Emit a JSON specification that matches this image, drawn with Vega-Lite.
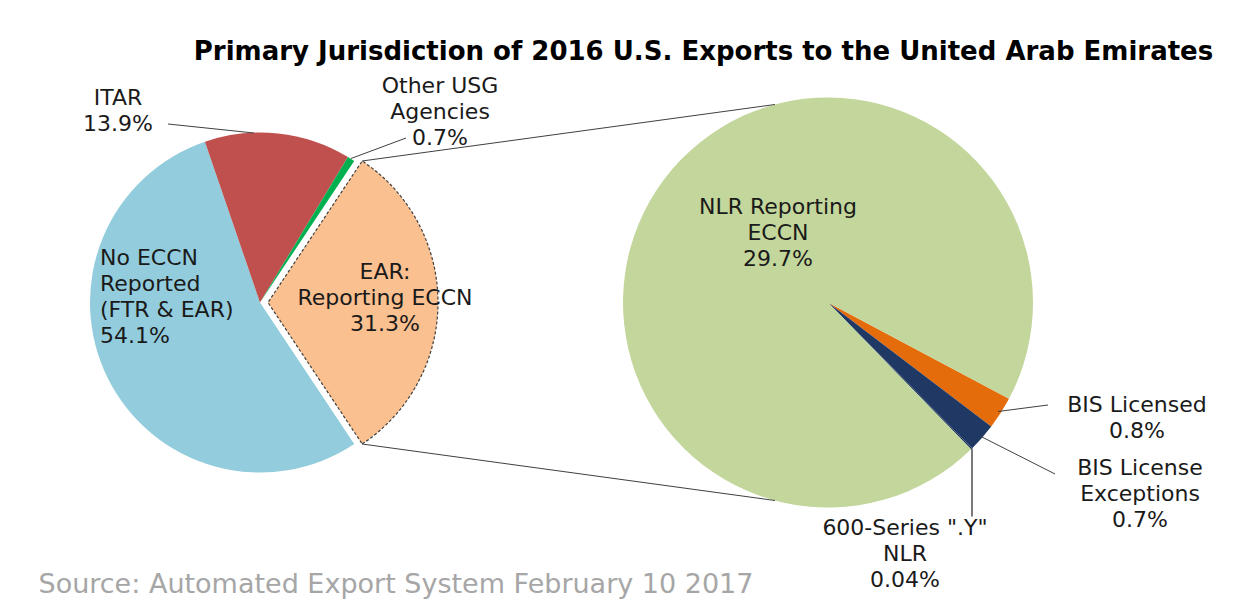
{
  "$schema": "https://vega.github.io/schema/vega-lite/v6.json",
  "width": 1257,
  "height": 605,
  "autosize": "none",
  "padding": 0,
  "background": "white",
  "config": {"view": {"stroke": null}},
  "title": {
    "text": "Primary Jurisdiction of 2016 U.S. Exports to the United Arab Emirates",
    "font": "DejaVu Sans",
    "fontSize": 26,
    "fontWeight": "bold",
    "color": "#000000",
    "anchor": "middle",
    "frame": "group",
    "dx": 75,
    "offset": -86,
    "baseline": "alphabetic"
  },
  "data": {
    "values": [
      {"pie": "Primary", "category": "EAR: Reporting ECCN", "share": 31.3, "rank": 1, "label": "EAR:\nReporting ECCN\n31.3%"},
      {"pie": "Primary", "category": "No ECCN Reported (FTR & EAR)", "share": 54.1, "rank": 2, "label": "No ECCN\nReported\n(FTR & EAR)\n54.1%"},
      {"pie": "Primary", "category": "ITAR", "share": 13.9, "rank": 3, "label": "ITAR\n13.9%"},
      {"pie": "Primary", "category": "Other USG Agencies", "share": 0.7, "rank": 4, "label": "Other USG\nAgencies\n0.7%"},
      {"pie": "EAR breakdown", "category": "BIS Licensed", "share": 0.8, "rank": 1, "label": "BIS Licensed\n0.8%"},
      {"pie": "EAR breakdown", "category": "BIS License Exceptions", "share": 0.7, "rank": 2, "label": "BIS License\nExceptions\n0.7%"},
      {"pie": "EAR breakdown", "category": "600-Series \".Y\" NLR", "share": 0.04, "rank": 3, "label": "600-Series \".Y\"\nNLR\n0.04%"},
      {"pie": "EAR breakdown", "category": "NLR Reporting ECCN", "share": 29.7, "rank": 4, "label": "NLR Reporting\nECCN\n29.7%"}
    ]
  },
  "encoding": {
    "x": {
      "field": "pie",
      "type": "nominal",
      "scale": {"type": "point", "domain": ["Primary", "EAR breakdown"], "range": [260, 828], "padding": 0},
      "axis": {
        "title": "Source: Automated Export System February 10 2017",
        "labels": false,
        "ticks": false,
        "domain": false,
        "grid": false,
        "titleFont": "DejaVu Sans",
        "titleFontSize": 27,
        "titleFontWeight": "normal",
        "titleColor": "#A6A6A6",
        "titleAlign": "left",
        "titleAnchor": "start",
        "titleBaseline": "alphabetic",
        "titleX": 38,
        "titleY": -13
      }
    }
  },
  "resolve": {"scale": {"theta": "independent"}},
  "layer": [
    {
      "transform": [{"filter": "datum.pie === 'Primary'"}],
      "mark": {"type": "arc", "radius": 170},
      "encoding": {
        "theta": {"field": "share", "type": "quantitative", "stack": true, "scale": {"range": [0.5873, 6.8705]}},
        "order": {"field": "rank", "type": "quantitative"},
        "color": {
          "field": "category",
          "type": "nominal",
          "legend": null,
          "scale": {
            "domain": ["EAR: Reporting ECCN", "No ECCN Reported (FTR & EAR)", "ITAR", "Other USG Agencies", "BIS Licensed", "BIS License Exceptions", "600-Series \".Y\" NLR", "NLR Reporting ECCN"],
            "range": ["#FAC090", "#93CDDD", "#C0504D", "#00B050", "#E46C0A", "#1F3864", "#1F3864", "#C3D69B"]
          }
        },
        "opacity": {"condition": {"test": "datum.category === 'EAR: Reporting ECCN'", "value": 0}, "value": 1}
      }
    },
    {
      "transform": [{"filter": "datum.pie === 'Primary'"}],
      "mark": {"type": "arc", "radius": 170, "xOffset": 8, "stroke": "#404040", "strokeWidth": 1.2, "strokeDash": [3, 2]},
      "encoding": {
        "theta": {"field": "share", "type": "quantitative", "stack": true, "scale": {"range": [0.5873, 6.8705]}},
        "order": {"field": "rank", "type": "quantitative"},
        "color": {"field": "category", "type": "nominal", "legend": null},
        "opacity": {"condition": {"test": "datum.category === 'EAR: Reporting ECCN'", "value": 1}, "value": 0}
      }
    },
    {
      "transform": [{"filter": "datum.pie === 'EAR breakdown'"}],
      "mark": {"type": "arc", "radius": 205},
      "encoding": {
        "theta": {"field": "share", "type": "quantitative", "stack": true, "scale": {"range": [2.0595, 8.3427]}},
        "order": {"field": "rank", "type": "quantitative"},
        "color": {"field": "category", "type": "nominal", "legend": null}
      }
    },
    {
      "transform": [{"filter": "datum.category === 'EAR: Reporting ECCN'"}],
      "mark": {"type": "rule", "stroke": "#404040", "strokeWidth": 1, "xOffset": 102, "yOffset": -141.5, "x2Offset": 515, "y2Offset": -198},
      "encoding": {"x2": {"field": "pie"}, "y": {"datum": 0, "type": "quantitative", "scale": {"domain": [-1, 1]}, "axis": null}, "y2": {"datum": 0}}
    },
    {
      "transform": [{"filter": "datum.category === 'EAR: Reporting ECCN'"}],
      "mark": {"type": "rule", "stroke": "#404040", "strokeWidth": 1, "xOffset": 102, "yOffset": 141.5, "x2Offset": 515, "y2Offset": 198},
      "encoding": {"x2": {"field": "pie"}, "y": {"datum": 0, "type": "quantitative", "scale": {"domain": [-1, 1]}, "axis": null}, "y2": {"datum": 0}}
    },
    {
      "transform": [{"filter": "datum.category === 'ITAR'"}],
      "mark": {"type": "rule", "stroke": "#404040", "strokeWidth": 1, "xOffset": -6, "yOffset": -169.5, "x2Offset": -92, "y2Offset": -178.5},
      "encoding": {"x2": {"field": "pie"}, "y": {"datum": 0, "type": "quantitative", "scale": {"domain": [-1, 1]}, "axis": null}, "y2": {"datum": 0}}
    },
    {
      "transform": [{"filter": "datum.category === 'Other USG Agencies'"}],
      "mark": {"type": "rule", "stroke": "#404040", "strokeWidth": 1, "xOffset": 91, "yOffset": -144, "x2Offset": 146, "y2Offset": -164.5},
      "encoding": {"x2": {"field": "pie"}, "y": {"datum": 0, "type": "quantitative", "scale": {"domain": [-1, 1]}, "axis": null}, "y2": {"datum": 0}}
    },
    {
      "transform": [{"filter": "datum.category === 'BIS Licensed'"}],
      "mark": {"type": "rule", "stroke": "#404040", "strokeWidth": 1, "xOffset": 170, "yOffset": 109, "x2Offset": 220, "y2Offset": 102.5},
      "encoding": {"x2": {"field": "pie"}, "y": {"datum": 0, "type": "quantitative", "scale": {"domain": [-1, 1]}, "axis": null}, "y2": {"datum": 0}}
    },
    {
      "transform": [{"filter": "datum.category === 'BIS License Exceptions'"}],
      "mark": {"type": "rule", "stroke": "#404040", "strokeWidth": 1, "xOffset": 153, "yOffset": 134, "x2Offset": 227, "y2Offset": 171.5},
      "encoding": {"x2": {"field": "pie"}, "y": {"datum": 0, "type": "quantitative", "scale": {"domain": [-1, 1]}, "axis": null}, "y2": {"datum": 0}}
    },
    {
      "transform": [{"filter": "datum.category === '600-Series \".Y\" NLR'"}],
      "mark": {"type": "rule", "stroke": "#202020", "strokeWidth": 1.2, "xOffset": 144, "yOffset": 146, "x2Offset": 144, "y2Offset": 214},
      "encoding": {"x2": {"field": "pie"}, "y": {"datum": 0, "type": "quantitative", "scale": {"domain": [-1, 1]}, "axis": null}, "y2": {"datum": 0}}
    },
    {
      "transform": [{"filter": "datum.category === 'ITAR'"}],
      "mark": {"type": "text", "font": "DejaVu Sans", "fontSize": 22, "lineHeight": 26, "lineBreak": "\n", "align": "center", "baseline": "middle", "fill": "#1A1A1A", "dx": -142, "dy": -204.5},
      "encoding": {"text": {"field": "label"}}
    },
    {
      "transform": [{"filter": "datum.category === 'Other USG Agencies'"}],
      "mark": {"type": "text", "font": "DejaVu Sans", "fontSize": 22, "lineHeight": 26, "lineBreak": "\n", "align": "center", "baseline": "middle", "fill": "#1A1A1A", "dx": 180, "dy": -216.5},
      "encoding": {"text": {"field": "label"}}
    },
    {
      "transform": [{"filter": "datum.category === 'No ECCN Reported (FTR & EAR)'"}],
      "mark": {"type": "text", "font": "DejaVu Sans", "fontSize": 22, "lineHeight": 26, "lineBreak": "\n", "align": "left", "baseline": "middle", "fill": "#1A1A1A", "dx": -160, "dy": -44.5},
      "encoding": {"text": {"field": "label"}}
    },
    {
      "transform": [{"filter": "datum.category === 'EAR: Reporting ECCN'"}],
      "mark": {"type": "text", "font": "DejaVu Sans", "fontSize": 22, "lineHeight": 26, "lineBreak": "\n", "align": "center", "baseline": "middle", "fill": "#1A1A1A", "dx": 125, "dy": -30.5},
      "encoding": {"text": {"field": "label"}}
    },
    {
      "transform": [{"filter": "datum.category === 'NLR Reporting ECCN'"}],
      "mark": {"type": "text", "font": "DejaVu Sans", "fontSize": 22, "lineHeight": 26, "lineBreak": "\n", "align": "center", "baseline": "middle", "fill": "#1A1A1A", "dx": -50, "dy": -95.5},
      "encoding": {"text": {"field": "label"}}
    },
    {
      "transform": [{"filter": "datum.category === 'BIS Licensed'"}],
      "mark": {"type": "text", "font": "DejaVu Sans", "fontSize": 22, "lineHeight": 26, "lineBreak": "\n", "align": "center", "baseline": "middle", "fill": "#1A1A1A", "dx": 309, "dy": 102.5},
      "encoding": {"text": {"field": "label"}}
    },
    {
      "transform": [{"filter": "datum.category === 'BIS License Exceptions'"}],
      "mark": {"type": "text", "font": "DejaVu Sans", "fontSize": 22, "lineHeight": 26, "lineBreak": "\n", "align": "center", "baseline": "middle", "fill": "#1A1A1A", "dx": 312, "dy": 165.5},
      "encoding": {"text": {"field": "label"}}
    },
    {
      "transform": [{"filter": "datum.category === '600-Series \".Y\" NLR'"}],
      "mark": {"type": "text", "font": "DejaVu Sans", "fontSize": 22, "lineHeight": 26, "lineBreak": "\n", "align": "center", "baseline": "middle", "fill": "#1A1A1A", "dx": 77, "dy": 225.5},
      "encoding": {"text": {"field": "label"}}
    }
  ]
}
